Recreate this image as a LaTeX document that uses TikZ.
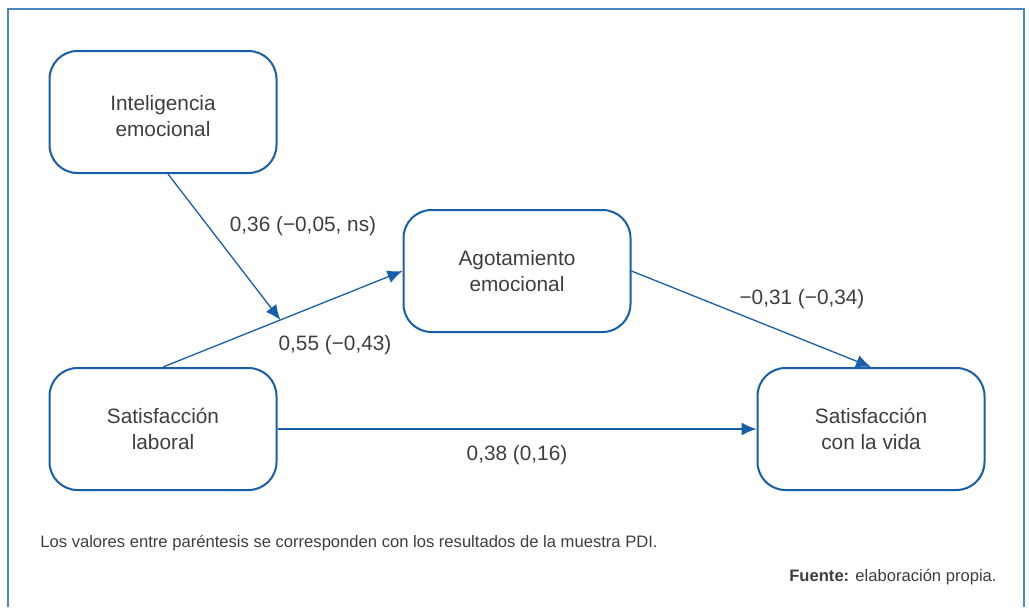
\documentclass[tikz,border=0pt]{standalone}
\usepackage{fontspec}
\setmainfont{Liberation Sans}
\usepackage{tikz}
\usetikzlibrary{positioning,calc,arrows.meta}
\definecolor{pathblue}{RGB}{22,94,170}
\definecolor{frameblue}{RGB}{75,135,195}
\definecolor{textgray}{RGB}{62,62,62}

\begin{document}
\begin{tikzpicture}[x=0.5pt,y=-0.5pt,>={Latex[length=7.5pt,width=6.5pt]},
                main node/.style={rectangle,draw=pathblue,line width=1pt,rounded corners=14pt,
                  minimum width=113.5pt,minimum height=61pt,align=center,text=textgray,
                  font=\fontsize{10.4}{13}\selectfont},
                path arrow/.style={->,draw=pathblue,line width=0.65pt},
                coef/.style={text=textgray,font=\fontsize{10.4}{13}\selectfont},
                note/.style={text=textgray,font=\fontsize{8.3}{10}\selectfont}]
\useasboundingbox (0,0) rectangle (1029,607);
%Frame
    \draw[frameblue,line width=0.9pt] (8,607) -- (8,9) -- (1024,9) -- (1024,607);
%Nodes
    \node[main node,text height=24.6pt] (IE) at (163,112) {Inteligencia\\emocional};
    \node[main node] (AE) at (517,271) {Agotamiento\\emocional};
    \node[main node] (SL) at (163,429) {Satisfacción\\laboral};
    \node[main node] (SV) at (871,429) {Satisfacción\\con la vida};

%Paths
    \draw[path arrow] (SL.north) -- coordinate[pos=0.49] (mod) (AE.west);
    \draw[path arrow] ([xshift=2.5pt]IE.south) -- (mod);
    \draw[path arrow] (AE.east) -- (SV.north);
    \draw[path arrow] (SL.east) -- (SV.west);

%Coefficients
    \node[coef] (cIE) at (303,226) {0,36 (−0,05, ns)};
    \node[coef] (cSL) at (335,345) {0,55 (−0,43)};
    \node[coef] (cAE) at (802,299) {−0,31 (−0,34)};
    \node[coef] (cSV) at (517,455) {0,38 (0,16)};

%Notes
    \node[note,anchor=west,inner sep=0pt] (nota) at (40,543) {Los valores entre paréntesis se corresponden con los resultados de la muestra PDI.};
    \node[note,anchor=east,inner sep=0pt] (fuente) at (997,577) {\textbf{Fuente:} elaboración propia.};
\end{tikzpicture}
\end{document}
